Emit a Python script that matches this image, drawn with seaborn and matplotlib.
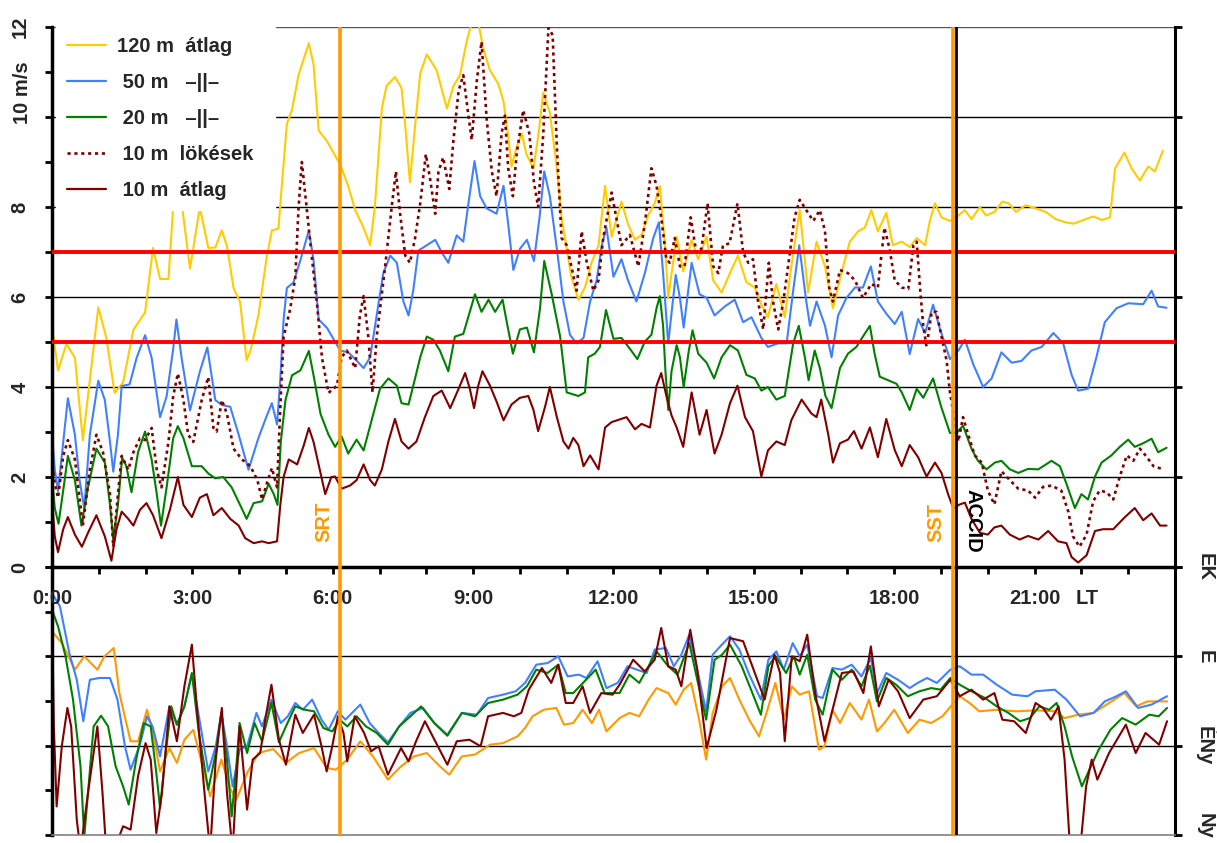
import numpy as np
import pandas as pd
import matplotlib
matplotlib.use("Agg")
import matplotlib.pyplot as plt
import seaborn as sns
from matplotlib.lines import Line2D

# ============================================================
# DATA  (hour of day, value)
# ============================================================
# --- wind speed, m/s ---
spd_120 = [(0, 5.35), (0.13, 4.37), (0.31, 4.96), (0.49, 4.65), (0.66, 2.82), (0.99, 5.77), (1.16, 5.1),
           (1.34, 3.87), (1.52, 4.1), (1.74, 5.27), (1.99, 5.66), (2.16, 7.09), (2.31, 6.4), (2.49, 6.4),
           (2.59, 8.0), (2.77, 8.1), (2.95, 6.63), (3.16, 8.0), (3.34, 7.09), (3.49, 7.1), (3.63, 7.48),
           (3.74, 7.13), (3.88, 6.2), (4.02, 5.89), (4.16, 4.6), (4.24, 4.8), (4.41, 5.58), (4.59, 6.9),
           (4.7, 7.48), (4.84, 7.52), (4.91, 8.45), (5.02, 9.85), (5.13, 10.16), (5.27, 10.94), (5.49, 11.64),
           (5.59, 11.17), (5.7, 9.7), (5.88, 9.46), (6.16, 8.94), (6.33, 8.47), (6.48, 7.93), (6.66, 7.54),
           (6.8, 7.15), (6.9, 8.0), (7.05, 10.19), (7.15, 10.69), (7.33, 10.89), (7.47, 10.65), (7.55, 9.8),
           (7.65, 8.55), (7.76, 9.8), (7.87, 10.97), (8.01, 11.39), (8.22, 11.04), (8.44, 10.19), (8.58, 10.69),
           (8.72, 10.93), (8.86, 11.67), (8.97, 12.1), (9.11, 12.1), (9.22, 11.51), (9.36, 11.04), (9.54, 10.73),
           (9.65, 10.34), (9.75, 9.56), (9.82, 8.9), (9.93, 9.33), (10.04, 9.64), (10.14, 9.17), (10.29, 8.86),
           (10.39, 9.56), (10.5, 10.54), (10.64, 10.1), (10.79, 8.86), (10.89, 7.77), (11.0, 7.07), (11.1, 6.45),
           (11.25, 5.94), (11.39, 6.21), (11.53, 6.76), (11.68, 7.15), (11.82, 8.47), (11.96, 7.34), (12.03, 7.6),
           (12.17, 8.12), (12.31, 7.62), (12.46, 7.27), (12.6, 7.38), (12.74, 7.81), (12.88, 8.08), (12.99, 8.47),
           (13.1, 7.15), (13.17, 5.98), (13.35, 7.34), (13.49, 6.57), (13.67, 7.27), (13.81, 6.84), (13.99, 7.34),
           (14.13, 6.37), (14.31, 6.1), (14.49, 6.53), (14.66, 6.92), (14.84, 6.33), (15.02, 6.21), (15.16, 5.83),
           (15.3, 5.55), (15.48, 6.29), (15.66, 5.55), (15.8, 6.68), (15.98, 7.93), (16.16, 6.1), (16.34, 7.23),
           (16.52, 6.68), (16.69, 5.75), (16.87, 6.53), (17.05, 7.23), (17.23, 7.46), (17.37, 7.54), (17.51, 7.93),
           (17.65, 7.46), (17.83, 7.87), (17.97, 7.15), (18.16, 7.23), (18.33, 7.11), (18.48, 7.31), (18.66, 7.15),
           (18.76, 7.69), (18.87, 8.08), (19.01, 7.77), (19.19, 7.69), (19.37, 7.81), (19.51, 7.93), (19.65, 7.73),
           (19.83, 8.0), (19.96, 7.81), (20.14, 7.89), (20.31, 8.12), (20.45, 8.08), (20.6, 7.89), (20.81, 8.04),
           (21.02, 7.97), (21.24, 7.89), (21.45, 7.73), (21.66, 7.66), (21.83, 7.63), (22.04, 7.71), (22.25, 7.79),
           (22.44, 7.71), (22.61, 7.77), (22.72, 8.86), (22.92, 9.21), (23.07, 8.86), (23.25, 8.59), (23.43, 8.9),
           (23.57, 8.79), (23.74, 9.25)]

spd_50 = [(0, 3.0), (0.06, 2.16), (0.13, 1.69), (0.24, 2.78), (0.34, 3.75), (0.49, 2.94), (0.59, 1.93), (0.69, 1.31),
          (0.81, 2.94), (0.99, 4.14), (1.13, 3.71), (1.24, 2.78), (1.31, 2.12), (1.41, 2.94), (1.49, 4.02),
          (1.66, 4.06), (1.81, 4.65), (1.99, 5.15), (2.13, 4.65), (2.31, 3.33), (2.45, 3.79), (2.59, 4.84),
          (2.66, 5.5), (2.77, 4.65), (2.95, 3.48), (3.16, 4.34), (3.32, 4.88), (3.49, 3.71), (3.63, 3.6),
          (3.81, 3.56), (3.99, 2.94), (4.2, 2.16), (4.41, 2.86), (4.59, 3.36), (4.7, 3.64), (4.81, 3.17),
          (4.88, 4.18), (4.95, 5.5), (5.02, 6.2), (5.16, 6.32), (5.31, 6.82), (5.49, 7.48), (5.59, 6.82),
          (5.7, 5.5), (5.88, 5.31), (6.16, 4.81), (6.33, 4.77), (6.48, 4.62), (6.66, 4.42), (6.8, 4.66),
          (6.94, 5.59), (7.08, 6.53), (7.23, 6.92), (7.37, 6.76), (7.51, 5.9), (7.62, 5.59), (7.72, 6.14),
          (7.83, 7.03), (8.01, 7.15), (8.19, 7.27), (8.33, 6.99), (8.47, 6.76), (8.65, 7.37), (8.79, 7.23),
          (8.9, 8.08), (9.03, 9.02), (9.15, 8.24), (9.29, 7.97), (9.5, 7.85), (9.65, 8.47), (9.75, 7.62),
          (9.86, 6.6), (10.0, 7.07), (10.15, 7.27), (10.3, 6.8), (10.42, 7.77), (10.52, 8.79), (10.64, 8.24),
          (10.79, 7.07), (10.93, 5.9), (11.07, 5.16), (11.21, 4.97), (11.36, 5.09), (11.5, 5.9), (11.64, 6.37),
          (11.75, 7.15), (11.85, 7.54), (12.0, 6.45), (12.17, 6.84), (12.31, 6.37), (12.49, 5.9), (12.67, 6.53),
          (12.85, 7.31), (12.97, 7.66), (13.06, 6.53), (13.17, 4.97), (13.33, 6.49), (13.42, 5.98), (13.5, 5.32),
          (13.67, 6.76), (13.84, 6.06), (13.99, 5.98), (14.16, 5.59), (14.38, 5.79), (14.59, 5.94), (14.77, 5.44),
          (14.95, 5.55), (15.16, 5.09), (15.3, 4.89), (15.52, 4.97), (15.7, 4.97), (15.84, 6.14), (15.97, 7.15),
          (16.12, 5.9), (16.2, 5.36), (16.34, 5.9), (16.52, 5.36), (16.66, 4.66), (16.8, 5.59), (16.98, 5.98),
          (17.16, 6.21), (17.33, 6.21), (17.5, 6.68), (17.65, 5.9), (17.83, 5.63), (18.01, 5.4), (18.16, 5.67),
          (18.33, 4.73), (18.51, 5.51), (18.66, 5.2), (18.83, 5.83), (18.98, 5.28), (19.19, 4.62), (19.37, 4.81),
          (19.51, 5.05), (19.69, 4.5), (19.9, 4.0), (20.08, 4.19), (20.29, 4.77), (20.51, 4.54), (20.72, 4.58),
          (20.93, 4.81), (21.15, 4.89), (21.4, 5.2), (21.61, 4.97), (21.79, 4.27), (21.93, 3.92), (22.14, 3.96),
          (22.32, 4.66), (22.5, 5.44), (22.75, 5.75), (23.0, 5.86), (23.32, 5.84), (23.5, 6.14), (23.64, 5.79),
          (23.82, 5.76)]

spd_20 = [(0, 2.0), (0.06, 1.31), (0.14, 0.96), (0.26, 1.85), (0.34, 2.47), (0.49, 1.93), (0.63, 0.92), (0.77, 1.77),
          (0.95, 2.63), (1.13, 2.32), (1.24, 1.38), (1.31, 0.61), (1.41, 1.38), (1.5, 2.43), (1.59, 2.24),
          (1.7, 1.66), (1.84, 2.55), (1.99, 3.01), (2.13, 2.39), (2.24, 1.62), (2.33, 0.92), (2.45, 1.77),
          (2.59, 2.86), (2.69, 3.13), (2.81, 2.86), (2.99, 2.24), (3.2, 2.24), (3.34, 2.08), (3.49, 1.97),
          (3.66, 2.0), (3.84, 1.77), (4.02, 1.38), (4.16, 1.07), (4.31, 1.42), (4.49, 1.46), (4.63, 1.85),
          (4.74, 1.62), (4.82, 1.38), (4.89, 2.78), (4.99, 3.71), (5.13, 4.26), (5.31, 4.37), (5.49, 4.8),
          (5.59, 4.26), (5.74, 3.4), (5.91, 2.94), (6.05, 2.67), (6.19, 2.9), (6.33, 2.52), (6.51, 2.83),
          (6.66, 2.59), (6.83, 3.26), (7.01, 3.96), (7.19, 4.19), (7.37, 4.03), (7.47, 3.64), (7.62, 3.61),
          (7.76, 4.19), (7.87, 4.66), (8.01, 5.12), (8.15, 5.05), (8.29, 4.81), (8.47, 4.35), (8.61, 5.12),
          (8.79, 5.18), (8.93, 5.67), (9.04, 6.06), (9.18, 5.67), (9.33, 5.94), (9.47, 5.67), (9.63, 5.94),
          (9.72, 5.44), (9.85, 4.74), (10.0, 5.28), (10.15, 5.32), (10.3, 4.77), (10.43, 5.75), (10.52, 6.8),
          (10.68, 6.06), (10.86, 5.12), (11.0, 3.88), (11.25, 3.8), (11.39, 3.88), (11.46, 4.66), (11.6, 4.74),
          (11.71, 4.89), (11.84, 5.71), (12.0, 5.07), (12.17, 5.09), (12.35, 4.85), (12.51, 4.62), (12.67, 5.01),
          (12.81, 5.16), (12.92, 5.75), (12.99, 6.02), (13.06, 5.36), (13.11, 4.35), (13.17, 3.49), (13.24, 4.35),
          (13.35, 4.93), (13.42, 4.66), (13.5, 4.0), (13.61, 4.81), (13.69, 5.26), (13.81, 4.74), (13.99, 4.54),
          (14.15, 4.19), (14.31, 4.66), (14.49, 4.93), (14.66, 4.81), (14.84, 4.27), (15.02, 4.19), (15.16, 3.92),
          (15.3, 4.0), (15.48, 3.72), (15.66, 3.8), (15.84, 4.97), (15.96, 5.36), (16.09, 4.66), (16.17, 4.15),
          (16.3, 4.81), (16.41, 4.42), (16.53, 3.8), (16.66, 3.53), (16.84, 4.42), (17.01, 4.74), (17.19, 4.89),
          (17.33, 5.12), (17.48, 5.36), (17.58, 4.74), (17.69, 4.23), (17.87, 4.15), (18.05, 4.07), (18.16, 3.88),
          (18.33, 3.49), (18.48, 3.96), (18.62, 3.76), (18.83, 4.19), (19.0, 3.57), (19.19, 2.98), (19.33, 2.98),
          (19.47, 3.14), (19.65, 2.63), (19.79, 2.36), (19.97, 2.17), (20.15, 2.32), (20.29, 2.36), (20.47, 2.17),
          (20.65, 2.09), (20.86, 2.18), (21.08, 2.17), (21.36, 2.36), (21.54, 2.24), (21.68, 1.85), (21.86, 1.31),
          (22.0, 1.62), (22.14, 1.5), (22.29, 2.01), (22.43, 2.32), (22.64, 2.48), (22.82, 2.67), (23.0, 2.83),
          (23.14, 2.67), (23.32, 2.75), (23.5, 2.85), (23.64, 2.55), (23.82, 2.65)]

gust_10 = [(0, 2.4), (0.06, 1.85), (0.13, 1.54), (0.24, 2.47), (0.34, 2.82), (0.49, 2.39), (0.66, 0.92), (0.81, 2.16),
           (0.95, 2.94), (1.09, 2.55), (1.24, 1.62), (1.31, 0.45), (1.41, 1.62), (1.49, 2.47), (1.63, 2.16),
           (1.74, 2.55), (1.88, 2.86), (1.99, 2.82), (2.13, 3.09), (2.24, 2.16), (2.34, 1.77), (2.49, 2.78),
           (2.59, 3.79), (2.69, 4.3), (2.81, 3.71), (2.91, 2.94), (3.02, 2.78), (3.2, 3.71), (3.34, 4.22),
           (3.45, 3.09), (3.52, 3.01), (3.63, 3.71), (3.74, 3.4), (3.88, 2.63), (4.06, 2.39), (4.24, 2.24),
           (4.39, 1.93), (4.49, 1.5), (4.59, 1.85), (4.7, 2.2), (4.81, 1.77), (4.88, 3.56), (4.95, 5.11),
           (5.09, 5.73), (5.2, 6.43), (5.27, 7.99), (5.34, 9.0), (5.45, 7.91), (5.56, 6.82), (5.66, 5.89),
           (5.77, 4.65), (5.91, 3.87), (6.09, 4.03), (6.19, 4.66), (6.3, 4.81), (6.48, 4.42), (6.58, 5.59),
           (6.66, 6.02), (6.76, 5.12), (6.85, 3.88), (6.94, 5.12), (7.12, 6.68), (7.26, 8.0), (7.35, 8.79),
           (7.44, 7.85), (7.55, 6.92), (7.65, 6.76), (7.76, 7.31), (7.87, 8.08), (7.99, 9.17), (8.08, 8.63),
           (8.19, 7.85), (8.26, 8.79), (8.36, 9.1), (8.49, 8.4), (8.58, 9.49), (8.69, 10.58), (8.79, 10.93),
           (8.9, 10.03), (8.97, 9.49), (9.08, 10.81), (9.18, 11.67), (9.29, 9.95), (9.4, 8.79), (9.5, 8.24),
           (9.61, 9.64), (9.68, 10.03), (9.75, 8.86), (9.85, 8.24), (9.93, 9.17), (10.07, 10.15), (10.2, 9.64),
           (10.3, 8.55), (10.39, 8.0), (10.5, 9.64), (10.61, 11.98), (10.7, 11.82), (10.79, 9.33), (10.89, 7.31),
           (11.0, 7.15), (11.1, 6.68), (11.21, 6.14), (11.32, 7.46), (11.43, 6.76), (11.57, 6.14), (11.68, 6.37),
           (11.78, 7.31), (11.96, 8.32), (12.17, 7.15), (12.35, 7.38), (12.53, 6.68), (12.67, 7.62), (12.81, 8.86),
           (12.92, 8.47), (13.02, 7.77), (13.13, 6.84), (13.2, 6.76), (13.31, 7.31), (13.42, 6.68), (13.52, 6.68),
           (13.65, 7.77), (13.77, 6.99), (13.88, 7.07), (14.01, 8.08), (14.13, 6.68), (14.24, 6.53), (14.34, 7.15),
           (14.48, 7.19), (14.65, 8.08), (14.77, 6.99), (14.88, 6.76), (14.98, 6.84), (15.09, 5.9), (15.2, 5.28),
           (15.32, 6.76), (15.41, 5.9), (15.52, 5.28), (15.63, 5.9), (15.73, 6.68), (15.87, 7.77), (15.98, 8.16),
           (16.12, 7.93), (16.27, 7.69), (16.41, 7.93), (16.52, 7.46), (16.61, 6.21), (16.69, 5.9), (16.84, 6.6),
           (17.01, 6.53), (17.16, 6.37), (17.33, 5.98), (17.51, 6.29), (17.65, 6.21), (17.79, 7.54), (17.9, 7.07),
           (18.01, 6.37), (18.16, 6.21), (18.3, 6.18), (18.41, 7.15), (18.48, 7.23), (18.55, 6.21), (18.62, 5.36),
           (18.69, 4.89), (18.8, 5.67), (18.9, 5.67), (19.01, 5.12), (19.12, 4.58), (19.19, 3.88), (19.37, 2.79),
           (19.47, 3.33), (19.58, 2.94), (19.72, 2.48), (19.87, 2.32), (20.0, 1.7), (20.14, 1.39), (20.29, 2.13),
           (20.47, 1.93), (20.65, 1.74), (20.86, 1.7), (21.01, 1.54), (21.18, 1.78), (21.36, 1.81), (21.57, 1.7),
           (21.72, 1.23), (21.82, 0.68), (21.96, 0.45), (22.11, 0.72), (22.25, 1.46), (22.39, 1.7), (22.54, 1.66),
           (22.68, 1.5), (22.82, 2.01), (22.97, 2.48), (23.11, 2.36), (23.25, 2.63), (23.4, 2.44), (23.54, 2.24),
           (23.72, 2.18)]

spd_10 = [(0, 1.5), (0.06, 0.68), (0.13, 0.33), (0.24, 0.84), (0.34, 1.11), (0.49, 0.72), (0.64, 0.45), (0.77, 0.76),
          (0.95, 1.15), (1.13, 0.68), (1.27, 0.14), (1.38, 0.84), (1.49, 1.23), (1.63, 1.07), (1.74, 0.92),
          (1.88, 1.27), (2.02, 1.42), (2.16, 1.15), (2.34, 0.64), (2.52, 1.27), (2.69, 2.0), (2.81, 1.38),
          (2.99, 1.11), (3.16, 1.54), (3.31, 1.62), (3.45, 1.15), (3.63, 1.31), (3.81, 1.07), (3.99, 0.92),
          (4.13, 0.64), (4.31, 0.53), (4.49, 0.57), (4.63, 0.53), (4.81, 0.57), (4.88, 1.38), (4.95, 2.0),
          (5.06, 2.39), (5.24, 2.28), (5.38, 2.7), (5.49, 3.09), (5.59, 2.78), (5.74, 2.08), (5.84, 1.62),
          (5.97, 2.0), (6.05, 2.01), (6.19, 1.74), (6.37, 1.81), (6.51, 1.93), (6.66, 2.28), (6.8, 1.93),
          (6.9, 1.81), (7.05, 2.17), (7.19, 2.79), (7.33, 3.29), (7.47, 2.79), (7.62, 2.63), (7.79, 2.79),
          (7.97, 3.33), (8.15, 3.8), (8.33, 3.92), (8.51, 3.53), (8.69, 3.96), (8.83, 4.31), (8.93, 3.96),
          (9.02, 3.53), (9.11, 4.03), (9.2, 4.35), (9.36, 4.03), (9.5, 3.68), (9.65, 3.26), (9.82, 3.61),
          (10.0, 3.76), (10.18, 3.8), (10.29, 3.49), (10.39, 3.02), (10.54, 3.57), (10.64, 4.0), (10.79, 3.33),
          (10.93, 2.79), (11.04, 2.63), (11.14, 2.87), (11.25, 2.71), (11.36, 2.24), (11.5, 2.48), (11.68, 2.17),
          (11.82, 3.1), (11.96, 3.22), (12.28, 3.33), (12.46, 3.06), (12.6, 3.18), (12.78, 3.1), (12.92, 4.03),
          (13.02, 4.31), (13.13, 3.8), (13.24, 3.37), (13.35, 3.1), (13.49, 2.67), (13.67, 3.88), (13.84, 2.94),
          (13.99, 3.49), (14.16, 2.52), (14.31, 2.94), (14.49, 3.64), (14.65, 4.03), (14.81, 3.33), (14.98, 3.02),
          (15.16, 2.01), (15.3, 2.59), (15.48, 2.79), (15.66, 2.71), (15.8, 3.26), (16.02, 3.72), (16.23, 3.41),
          (16.34, 3.33), (16.44, 3.72), (16.59, 2.94), (16.69, 2.32), (16.84, 2.75), (17.01, 2.83), (17.14, 3.02),
          (17.3, 2.63), (17.48, 3.1), (17.65, 2.44), (17.83, 3.29), (18.01, 2.6), (18.16, 2.24), (18.33, 2.71),
          (18.51, 2.44), (18.69, 2.01), (18.87, 2.32), (19.01, 2.09), (19.15, 1.62), (19.26, 1.31), (19.4, 1.39),
          (19.51, 1.43), (19.65, 1.07), (19.83, 0.76), (20.0, 0.72), (20.14, 0.88), (20.29, 0.92), (20.47, 0.72),
          (20.68, 0.61), (20.86, 0.69), (21.08, 0.61), (21.29, 0.8), (21.5, 0.57), (21.68, 0.53), (21.79, 0.22),
          (21.93, 0.1), (22.11, 0.26), (22.29, 0.8), (22.46, 0.84), (22.68, 0.84), (22.93, 1.11), (23.14, 1.31),
          (23.32, 1.04), (23.5, 1.19), (23.68, 0.92), (23.82, 0.92)]

# --- wind direction, degrees (Ny=270, ÉNy=315, É=360, ÉK=405) ---
dir_120 = [(0, 372.6), (0.21, 366.7), (0.49, 353.3), (0.69, 360), (0.97, 353.3), (1.12, 360), (1.32, 364.2),
           (1.44, 341.5), (1.68, 317.2), (1.84, 317.2), (2.03, 333.1), (2.15, 323), (2.31, 302), (2.51, 313.8),
           (2.67, 306.3), (2.83, 318), (3.02, 323), (3.22, 304.6), (3.38, 289.5), (3.62, 308), (3.82, 292.8),
           (3.94, 287.8), (4.17, 301.2), (4.41, 311.3), (4.73, 313.3), (5.0, 306.3), (5.28, 311.3), (5.6, 313.8),
           (5.87, 303.8), (6.07, 302.9), (6.31, 308), (6.59, 317.2), (6.86, 309.6), (7.18, 297.9), (7.46, 304.6),
           (7.74, 309.6), (8.01, 311.3), (8.29, 304.6), (8.49, 300.4), (8.76, 309.6), (9.04, 310.5), (9.36, 315.5),
           (9.64, 316.3), (9.95, 319.7), (10.11, 323.9), (10.27, 329.8), (10.51, 333.1), (10.78, 334),
           (10.94, 325.6), (11.14, 326.4), (11.34, 333.1), (11.54, 326.4), (11.69, 333.1), (11.85, 322.2),
           (12.13, 328.9), (12.34, 331.5), (12.55, 329.8), (12.75, 338.2), (12.92, 344), (13.17, 341.5),
           (13.33, 335.7), (13.5, 343.2), (13.66, 346.6), (13.83, 328.1), (13.98, 308), (14.12, 331.5),
           (14.32, 344.9), (14.49, 349.1), (14.69, 338.2), (14.9, 328.1), (15.11, 319.7), (15.27, 331.5),
           (15.46, 346.6), (15.64, 328.1), (15.81, 344.9), (15.98, 340.7), (16.18, 342.4), (16.39, 313),
           (16.51, 314.7), (16.68, 333.1), (16.84, 326.4), (17.05, 336.5), (17.3, 328.1), (17.46, 338.2),
           (17.63, 322.2), (17.79, 326.4), (18.0, 333.1), (18.29, 321.4), (18.54, 328.1), (18.79, 326.4),
           (19.03, 329.8), (19.24, 335.7), (19.4, 339.9), (19.61, 336.5), (19.82, 332.3), (20.19, 333.1),
           (20.6, 332.3), (21.02, 332.8), (21.43, 332.3), (21.64, 328.9), (21.93, 330.6), (22.26, 331.5),
           (22.59, 336.5), (22.92, 341.5), (23.17, 334.8), (23.41, 337.3), (23.83, 337.3)]

dir_50 = [(0, 391.9), (0.17, 385.2), (0.37, 361.7), (0.53, 348.2), (0.67, 327.3), (0.81, 348.2), (1.01, 349.1),
          (1.24, 349.1), (1.4, 338.2), (1.56, 314.7), (1.68, 302.9), (1.88, 315.5), (2.03, 329.8), (2.15, 324.7),
          (2.31, 309.6), (2.51, 334.8), (2.67, 325.6), (2.83, 334.8), (2.99, 350.8), (3.14, 329.8), (3.34, 302),
          (3.5, 314.7), (3.62, 331.5), (3.74, 314.7), (3.86, 294.5), (4.01, 313), (4.17, 314.7), (4.37, 331.5),
          (4.49, 324.7), (4.69, 338.2), (4.89, 326.4), (5.04, 329.8), (5.2, 336.5), (5.36, 333.1), (5.56, 338.2),
          (5.76, 328.1), (5.91, 323), (6.11, 332.3), (6.27, 328.1), (6.59, 335.7), (6.79, 326.4), (6.98, 321.4),
          (7.18, 316.7), (7.42, 324.7), (7.66, 331.5), (7.93, 334), (8.17, 326.4), (8.45, 320.5), (8.76, 331.5),
          (9.08, 330.6), (9.32, 339), (9.64, 340.7), (9.91, 342.4), (10.11, 346.6), (10.35, 355.8),
          (10.59, 356.6), (10.82, 360), (11.02, 349.9), (11.26, 350.8), (11.42, 349.1), (11.66, 357.5),
          (11.85, 344), (12.09, 346.6), (12.3, 355), (12.5, 353.3), (12.71, 351.6), (12.88, 363.4),
          (13.12, 364.2), (13.29, 355), (13.45, 360.8), (13.62, 370.9), (13.79, 353.3), (13.98, 332.3),
          (14.12, 360.8), (14.28, 365), (14.49, 370.1), (14.69, 363.4), (14.9, 350.8), (15.15, 338.2),
          (15.31, 358.3), (15.48, 362.5), (15.64, 353.3), (15.83, 366.7), (15.98, 360), (16.14, 365.9),
          (16.35, 339.9), (16.47, 339), (16.68, 354.1), (16.88, 353.3), (17.09, 355.8), (17.3, 349.9),
          (17.5, 359.2), (17.63, 341.5), (17.83, 351.6), (18.08, 348.2), (18.33, 344), (18.5, 346.6),
          (18.7, 349.1), (18.91, 346.6), (19.2, 353.3), (19.4, 355), (19.65, 350.8), (19.9, 350.8),
          (20.19, 345.7), (20.52, 340.7), (20.85, 339.9), (21.02, 342.4), (21.43, 343.2), (21.68, 338.2),
          (21.97, 329.8), (22.26, 331.5), (22.5, 337.3), (22.75, 339.9), (22.95, 342.4), (23.21, 334),
          (23.5, 335.7), (23.83, 339.9)]

dir_20 = [(0, 383.5), (0.13, 375.1), (0.29, 360), (0.45, 338.2), (0.61, 304.6), (0.69, 269), (0.77, 291.2),
          (0.89, 324.7), (1.05, 330.1), (1.2, 324.7), (1.36, 304.6), (1.52, 294.5), (1.64, 285.3), (1.8, 308),
          (1.96, 326.4), (2.11, 324.7), (2.23, 301.2), (2.31, 283.6), (2.43, 311.3), (2.55, 334.8), (2.67, 325.6),
          (2.83, 334.8), (2.99, 351.6), (3.14, 321.4), (3.34, 292.8), (3.5, 311.3), (3.62, 331.5), (3.74, 308),
          (3.84, 279.4), (3.94, 304.6), (4.01, 326.4), (4.17, 311.3), (4.33, 326.4), (4.49, 317.2),
          (4.69, 336.5), (4.85, 316.7), (5.0, 324.7), (5.2, 334.8), (5.4, 333.1), (5.6, 332.3), (5.8, 323.9),
          (5.99, 322.2), (6.15, 328.1), (6.31, 324.7), (6.51, 329.8), (6.71, 324.7), (6.94, 321.4),
          (7.18, 315.5), (7.42, 324.7), (7.66, 329.8), (7.89, 334.8), (8.17, 326.4), (8.45, 320), (8.76, 331.5),
          (9.04, 329.8), (9.32, 336.5), (9.64, 338.2), (9.95, 340.7), (10.15, 344.9), (10.35, 353.3),
          (10.59, 351.6), (10.82, 355.8), (10.98, 341.5), (11.14, 341.5), (11.38, 347.4), (11.62, 353.3),
          (11.81, 341.5), (12.13, 341.5), (12.34, 350.8), (12.55, 346.6), (12.75, 355), (12.92, 362.5),
          (13.17, 355), (13.37, 350.8), (13.62, 366.7), (13.79, 348.2), (13.98, 328.1), (14.16, 358.3),
          (14.32, 360.8), (14.49, 365.9), (14.74, 355), (14.94, 343.2), (15.15, 330.6), (15.31, 355),
          (15.46, 360), (15.69, 351.6), (15.85, 360), (15.98, 350.8), (16.14, 360.8), (16.31, 338.2),
          (16.47, 330.6), (16.68, 353.3), (16.88, 348.2), (17.09, 353.3), (17.3, 344.9), (17.48, 355.3),
          (17.63, 337.3), (17.83, 349.1), (18.04, 345.7), (18.29, 339.9), (18.54, 342.4), (18.79, 344),
          (18.99, 343.2), (19.2, 349.1), (19.4, 345.7), (19.65, 342.4), (19.94, 339), (20.19, 334.8),
          (20.44, 331.5), (20.69, 327.3), (20.9, 328.9), (21.1, 334.8), (21.31, 333.1), (21.47, 336.5),
          (21.64, 324.7), (21.8, 309.6), (22.01, 294.5), (22.17, 302.9), (22.37, 313), (22.62, 323),
          (22.87, 328.9), (23.16, 325.6), (23.45, 330.6), (23.65, 329.8), (23.83, 334)]

dir_10 = [(0, 385.2), (0.04, 324.7), (0.1, 284.4), (0.21, 314.7), (0.33, 334), (0.41, 324.7), (0.53, 277.7),
          (0.61, 262), (0.77, 291.2), (0.97, 324.7), (1.08, 291.2), (1.16, 262), (1.32, 262), (1.52, 274.4),
          (1.68, 272.7), (1.84, 299.6), (2.0, 316.3), (2.11, 308), (2.23, 271), (2.35, 291.2), (2.51, 334.8),
          (2.67, 317.2), (2.83, 344.9), (2.99, 365.9), (3.1, 333.1), (3.26, 291.2), (3.38, 262), (3.5, 308),
          (3.63, 334), (3.74, 291.2), (3.86, 262), (4.01, 324.7), (4.17, 282.8), (4.29, 308), (4.45, 311.3),
          (4.57, 329.8), (4.69, 345.7), (4.85, 318), (5.0, 305.4), (5.2, 330.6), (5.36, 321.4), (5.6, 330.6),
          (5.76, 314.7), (5.87, 302), (5.99, 314.7), (6.11, 329.8), (6.23, 321.4), (6.31, 307.1), (6.47, 329.8),
          (6.67, 321.4), (6.82, 312.2), (6.98, 314.7), (7.18, 300.4), (7.46, 313.8), (7.62, 307.1),
          (7.78, 317.2), (7.97, 327.3), (8.21, 316.3), (8.45, 305.4), (8.65, 317.2), (8.92, 318), (9.16, 314.7),
          (9.32, 329.8), (9.64, 331.5), (9.87, 329.8), (10.03, 331.5), (10.19, 343.2), (10.47, 354.1),
          (10.67, 346.6), (10.82, 355.8), (10.98, 336.5), (11.14, 336.5), (11.34, 344.9), (11.5, 331.5),
          (11.74, 341.5), (11.98, 340.7), (12.13, 345.7), (12.42, 358.3), (12.67, 352.4), (12.88, 358.3),
          (13.02, 374.3), (13.17, 355), (13.33, 353.3), (13.45, 344.9), (13.64, 373.4), (13.79, 353.3),
          (13.99, 313.8), (14.2, 333.1), (14.49, 369.2), (14.77, 367.6), (15.02, 351.6), (15.23, 338.2),
          (15.44, 360.8), (15.56, 351.6), (15.66, 317.2), (15.81, 360), (15.98, 357.5), (16.14, 370.9),
          (16.31, 341.5), (16.51, 317.2), (16.68, 333.1), (16.88, 351.6), (17.13, 352.4), (17.34, 341.5),
          (17.5, 365), (17.67, 334.8), (17.88, 348.2), (18.08, 342.4), (18.33, 328.9), (18.62, 338.2),
          (18.91, 339.9), (19.2, 348.2), (19.4, 339.9), (19.65, 343.2), (19.9, 338.2), (20.14, 341.5),
          (20.31, 328.1), (20.56, 327.3), (20.81, 321.4), (21.02, 336.5), (21.18, 334), (21.35, 328.1),
          (21.51, 334.8), (21.64, 308), (21.76, 262), (21.97, 262), (22.1, 294.5), (22.22, 308), (22.34, 297.9),
          (22.59, 311.3), (22.95, 325.6), (23.16, 311.3), (23.37, 321.4), (23.66, 315.5), (23.83, 327.3)]

# events (hour of day)
srt_time = 6.15
sst_time = 19.25
accid_time = 19.33

legend_labels = ["120 m  átlag", " 50 m   –||–", " 20 m   –||–", " 10 m  lökések  ", " 10 m  átlag"]
time_labels = ["0:00", "3:00", "6:00", "9:00", "12:00", "15:00", "18:00", "21:00"]
dir_labels = ["Ny", "ÉNy", "É", "ÉK"]
dir_ticks = [270, 315, 360, 405]

# colours
c_120, c_50, c_20, c_10 = "#FFCC00", "#4080FF", "#008000", "#800000"
c_orange = "#FF9900"
FS = 14.5

# ============================================================
# FIGURE
# ============================================================
sns.set_theme(style="white")
plt.rcParams['font.family'] = ['Liberation Sans', 'DejaVu Sans']
plt.rcParams['font.weight'] = 'bold'

fig = plt.figure(figsize=(12.17, 8.43), dpi=100)
ax = fig.add_axes([0.0427, 0.3274, 0.9228, 0.6406])
axd = fig.add_axes([0.0427, 0.0095, 0.9228, 0.3179])
axd.set_facecolor("none")


def draw(a, pairs, color, **kw):
    d = pd.DataFrame(pairs, columns=["t", "v"])
    sns.lineplot(data=d, x="t", y="v", ax=a, color=color, estimator=None, sort=False,
                 legend=False, **kw)


# --- top panel: speed ---
for y in range(2, 13, 2):
    ax.axhline(y, color="#555555" if y == 12 else "black", lw=1.0, zorder=0)

draw(ax, spd_120, c_120, linewidth=1.5)
draw(ax, spd_50, c_50, linewidth=1.5)
draw(ax, spd_20, c_20, linewidth=1.5)
draw(ax, gust_10, c_10, linewidth=1.9, linestyle=(0, (1.2, 1.4)))
draw(ax, spd_10, c_10, linewidth=1.5)

ax.axhline(5, color="red", lw=2.8, zorder=4)
ax.axhline(7, color="red", lw=2.8, zorder=4)

ax.set_xlim(0, 24)
ax.set_ylim(0, 12)
ax.set_xlabel("")
ax.set_ylabel("")
ax.set_xticks(range(0, 25))
ax.tick_params(axis="x", direction="out", length=5, width=2, color="black", labelbottom=False, bottom=True)
ax.set_yticks(range(0, 13, 2))
ax.set_yticks(range(1, 13, 2), minor=True)
ax.set_yticklabels(["0", "2", "4", "6", "8", "", "12"], rotation=90, va="center", fontsize=FS, fontweight="bold")
ax.tick_params(axis="y", which="major", direction="out", length=5, width=2, color="black",
               left=True, right=True, pad=11)
ax.tick_params(axis="y", which="minor", direction="out", length=5, width=2, color="black",
               left=True, right=False)
ax.spines["top"].set_visible(False)
ax.spines["left"].set_linewidth(2.5)
ax.spines["bottom"].set_linewidth(2.5)
ax.spines["right"].set_linewidth(2.2)
for s in ax.spines.values():
    s.set_color("black")

ax.text(-0.0263, 10.55, "10 m/s", transform=ax.get_yaxis_transform(), rotation=90,
        ha="center", va="center", fontsize=FS, fontweight="bold")

handles = [Line2D([], [], color=c_120, lw=1.6),
           Line2D([], [], color=c_50, lw=1.6),
           Line2D([], [], color=c_20, lw=1.6),
           Line2D([], [], color=c_10, lw=1.9, linestyle=(0, (1.2, 1.4))),
           Line2D([], [], color=c_10, lw=1.6)]
leg = ax.legend(handles, legend_labels, loc="upper left", bbox_to_anchor=(0.004, 1.0),
                frameon=True, fancybox=False, facecolor="white", edgecolor="white", framealpha=1,
                borderaxespad=0.0, borderpad=0.5, handlelength=1.95, handletextpad=0.55,
                labelspacing=0.84, prop={"size": FS, "weight": "bold"})
leg.set_zorder(20)

# --- bottom panel: direction ---
for y in (315, 360):
    axd.axhline(y, color="black", lw=1.0, zorder=0)

draw(axd, dir_120, c_orange, linewidth=1.5)
draw(axd, dir_50, c_50, linewidth=1.5)
draw(axd, dir_20, c_20, linewidth=1.5)
draw(axd, dir_10, c_10, linewidth=1.5)

axd.set_xlim(0, 24)
axd.set_ylim(270, 405)
axd.set_xlabel("")
axd.set_ylabel("")
axd.set_xticks([])
axd.set_yticks(dir_ticks)
axd.set_yticks([292.5, 337.5, 382.5], minor=True)
axd.set_yticklabels([])
axd.tick_params(axis="y", which="major", direction="out", length=5, width=2, color="black",
                left=True, right=True, labelleft=False)
axd.tick_params(axis="y", which="minor", direction="out", length=5, width=2, color="black",
                left=True, right=False)
axd.spines["top"].set_visible(False)
axd.spines["left"].set_linewidth(2.5)
axd.spines["left"].set_color("black")
axd.spines["right"].set_linewidth(2.2)
axd.spines["right"].set_color("black")
axd.spines["bottom"].set_linewidth(1.2)
axd.spines["bottom"].set_color("#808080")

label_y = {"Ny": 274.5, "ÉNy": 315, "É": 360, "ÉK": 405}
for lab in dir_labels:
    axd.text(1.027, label_y[lab], lab, transform=axd.get_yaxis_transform(), rotation=270,
             ha="center", va="center", fontsize=FS, fontweight="bold", clip_on=False)

for i, lab in enumerate(time_labels):
    axd.text(i * 3, 389, lab, ha="center", va="center", fontsize=FS, fontweight="bold", zorder=6)
axd.text(22.12, 389, "LT", ha="center", va="center", fontsize=FS, fontweight="bold", zorder=6)

# --- event lines ---
for a in (ax, axd):
    a.axvline(srt_time, color=c_orange, lw=2.6, zorder=8)
    a.axvline(sst_time, color=c_orange, lw=2.6, zorder=8)
    a.axvline(accid_time, color="black", lw=2.0, zorder=8)

ax.text(5.82, 1.0, "SRT", rotation=90, color=c_orange, ha="center", va="center",
        fontsize=FS, fontweight="bold", zorder=9)
ax.text(18.9, 1.0, "SST", rotation=90, color=c_orange, ha="center", va="center",
        fontsize=FS, fontweight="bold", zorder=9)
ax.text(19.68, 1.02, "ACCID", rotation=270, color="black", ha="center", va="center",
        fontsize=FS, fontweight="bold", zorder=9)

fig.savefig("out.png", dpi=100)
